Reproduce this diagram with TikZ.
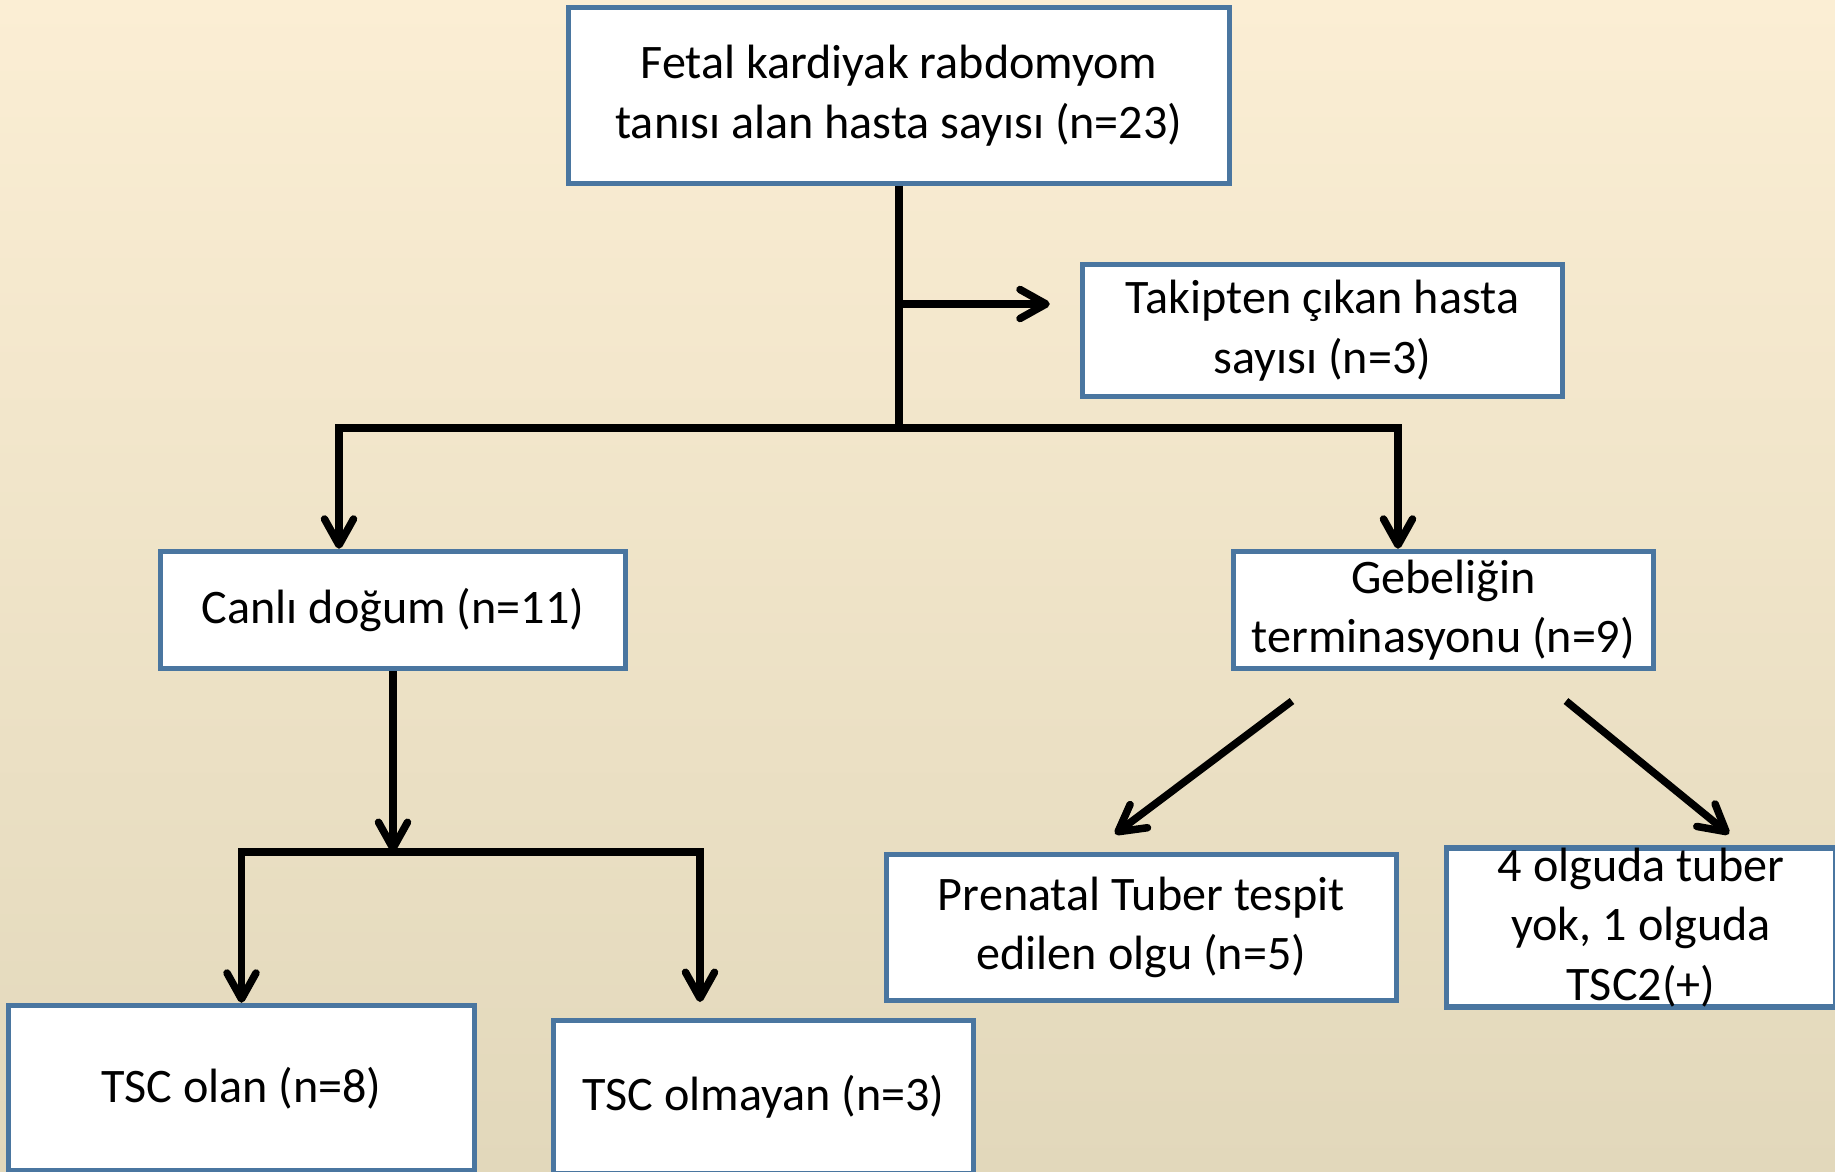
\documentclass[tikz,border=0pt]{standalone}
\usepackage{fontspec}
\setmainfont{Carlito}
\usepackage{tikz}
\usetikzlibrary{positioning, arrows.meta}
\usepackage{xcolor}
\definecolor{boxline}{RGB}{74,118,160}
\definecolor{bgtop}{RGB}{251,238,212}
\definecolor{bgbot}{RGB}{226,216,187}

\begin{document}
\begin{tikzpicture}[
			% GLOBAL CFG
			font=\fontsize{13.7pt}{16.9pt}\selectfont,
			>={Straight Barb[length=0.26cm, width=0.29cm, round]},
			% Styles
			step box/.style={% For the boxes of the flow
				rectangle,
				draw=boxline,
				fill=white,
				line width=0.055cm,
				align=center,
				inner sep=2pt,
			},
			link/.style={% Black connectors
				line width=0.075cm,
				draw=black,
			},
			]
			% Page and background
			\useasboundingbox (0,0) rectangle (18.35,-11.71);
			\clip (0,0) rectangle (18.35,-11.71);
			\shade [top color=bgtop, bottom color=bgbot] (0,0) rectangle (18.35,-11.71);
			
			% Draw the boxes
			\node [step box, minimum width=6.61cm, minimum height=1.76cm] (top) at (8.99,-0.955)
				{Fetal kardiyak rabdomyom\\tanısı alan hasta sayısı (n=23)};
			\node [step box, minimum width=4.80cm, minimum height=1.32cm] (takip) at (13.225,-3.305)
				{Takipten çıkan hasta\\sayısı (n=3)};
			\node [step box, minimum width=4.65cm, minimum height=1.17cm] (canli) at (3.93,-6.10)
				{Canlı doğum (n=11)};
			\node [step box, minimum width=4.20cm, minimum height=1.17cm] (gebe) at (14.435,-6.10)
				{Gebeliğin\\terminasyonu (n=9)};
			\node [step box, minimum width=5.10cm, minimum height=1.46cm] (prenatal) at (11.415,-9.275)
				{Prenatal Tuber tespit\\edilen olgu (n=5)};
			\node [step box, minimum width=3.89cm, minimum height=1.46cm, inner sep=0pt] (dort) at (16.41,-9.275)
				{4 olguda tuber\\yok, 1 olguda\\TSC2(+)};
			\node [step box, minimum width=4.66cm, minimum height=1.65cm] (tscolan) at (2.415,-10.88)
				{TSC olan (n=8)};
			\node [step box, minimum width=4.20cm, minimum height=1.53cm] (tscolmayan) at (7.635,-10.97)
				{TSC olmayan (n=3)};
			
			% Branch points
			\coordinate (split1) at (8.99,-4.28);
			\coordinate (side) at (8.99,-3.04);
			\coordinate (lj) at (3.39,-4.28);
			\coordinate (rj) at (13.98,-4.28);
			\coordinate (split2) at (3.93,-8.52);
			\coordinate (rk) at (7.00,-8.52);
			\coordinate (rkend) at (7.00,-10.02);
			\coordinate (gl) at (12.92,-7.01);
			\coordinate (glend) at (11.15,-8.34);
			\coordinate (gr) at (15.66,-7.01);
			\coordinate (grend) at (17.29,-8.34);
			
			% Drawing arrows
			\draw [link] (top) -- (split1);
			\draw [link, ->, shorten >=0.3cm] (side) -- (side -| takip.west);
			\draw [link, ->] (split1) -- (lj) -- (lj |- canli.north);
			\draw [link, ->] (split1) -- (rj) -- (rj |- gebe.north);
			\draw [link, ->] (canli) -- (split2);
			\draw [link, ->] (split2) -| (tscolan.north);
			\draw [link, ->] (split2) -- (rk) -- (rkend);
			\draw [link, ->] (gl) -- (glend);
			\draw [link, ->] (gr) -- (grend);
			
		\end{tikzpicture}
\end{document}
